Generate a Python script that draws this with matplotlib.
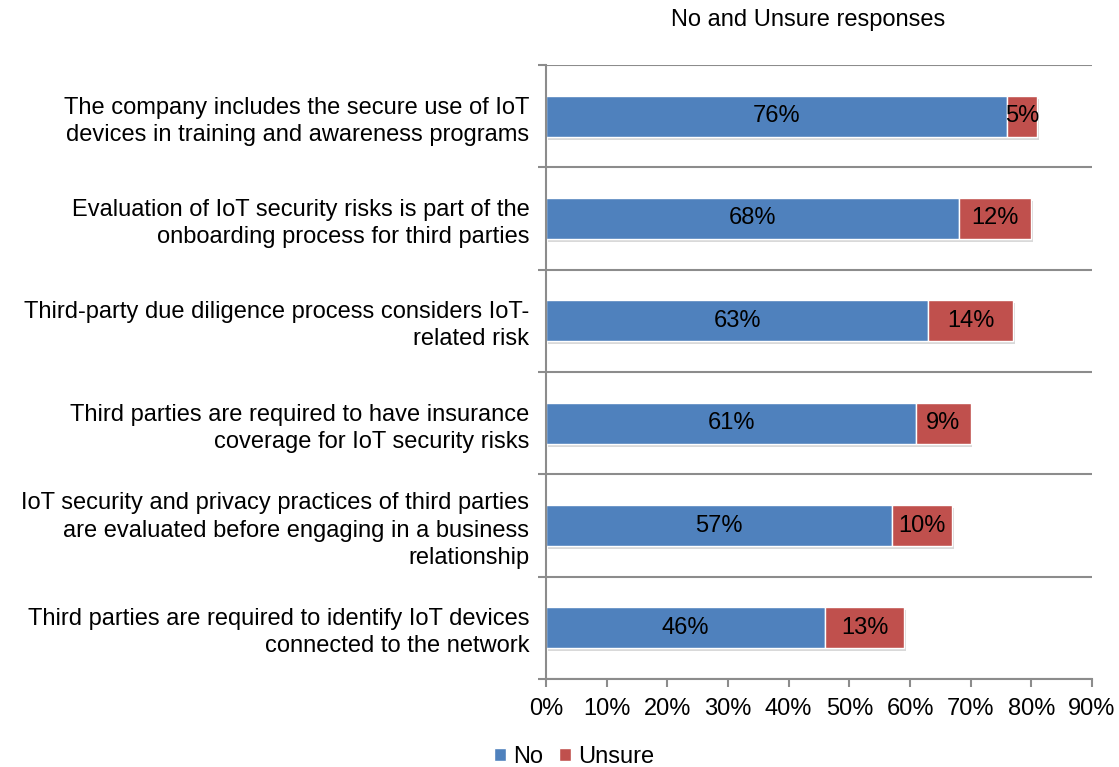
import matplotlib.pyplot as plt
import numpy as np

plt.rcParams['font.family'] = ['Liberation Sans', 'DejaVu Sans']

categories = [
    "The company includes the secure use of IoT\ndevices in training and awareness programs",
    "Evaluation of IoT security risks is part of the\nonboarding process for third parties",
    "Third-party due diligence process considers IoT-\nrelated risk",
    "Third parties are required to have insurance\ncoverage for IoT security risks",
    "IoT security and privacy practices of third parties\nare evaluated before engaging in a business\nrelationship",
    "Third parties are required to identify IoT devices\nconnected to the network",
]
no_vals = [76, 68, 63, 61, 57, 46]
unsure_vals = [5, 12, 14, 9, 10, 13]
xticks = [0, 10, 20, 30, 40, 50, 60, 70, 80, 90]

blue = '#4F81BD'
red = '#C0504D'
grey = '#8C8C8C'
fs = 17

fig = plt.figure(figsize=(11.19, 7.67), dpi=100)
ax = fig.add_axes([546 / 1119, 88 / 767, 546 / 1119, 614 / 767])

n = len(categories)
y = np.arange(n)[::-1]
h = 0.4

# faint shadow under bars
ax.barh(y - 0.03, np.add(no_vals, unsure_vals), left=0.3, height=h,
        color='#d9d9d9', zorder=1)
b1 = ax.barh(y, no_vals, height=h, color=blue, edgecolor='white', linewidth=1, zorder=2, label='No')
b2 = ax.barh(y, unsure_vals, left=no_vals, height=h, color=red, edgecolor='white', linewidth=1,
             zorder=2, label='Unsure')

for yi, a, b in zip(y, no_vals, unsure_vals):
    ax.text(a / 2, yi, f"{a}%", ha='center', va='center', fontsize=fs, zorder=3)
    ax.text(a + b / 2, yi, f"{b}%", ha='center', va='center', fontsize=fs, zorder=3)

ax.set_xlim(0, 90)
ax.set_ylim(-0.5, n - 0.5)
ax.set_xticks(xticks)
ax.set_xticklabels([f"{t}%" for t in xticks], fontsize=fs)
ax.set_yticks(y)
ax.set_yticklabels(categories, fontsize=fs, linespacing=1.3)
ax.set_yticks(np.arange(n + 1) - 0.5, minor=True)
ax.tick_params(axis='y', which='major', length=0, pad=12)
ax.tick_params(axis='y', which='minor', length=6, color=grey, width=1.5)
ax.tick_params(axis='x', length=6, color=grey, width=1.5, pad=8)
ax.grid(axis='y', which='minor', color=grey, linewidth=1.5, zorder=0)
ax.set_axisbelow(True)

for s in ['top', 'right']:
    ax.spines[s].set_visible(False)
for s in ['left', 'bottom']:
    ax.spines[s].set_color(grey)
    ax.spines[s].set_linewidth(1.5)

fig.text(808 / 1119, 1 - 20 / 767, "No and Unsure responses", ha='center', va='center', fontsize=fs)

fig.legend(handles=[b1, b2], labels=['No', 'Unsure'], loc='center', bbox_to_anchor=(574 / 1119, 1 - 757 / 767),
           ncol=2, frameon=False, fontsize=fs, handlelength=0.5, handleheight=0.5,
           handletextpad=0.3, columnspacing=0.7)

fig.savefig('out.png', dpi=100)
